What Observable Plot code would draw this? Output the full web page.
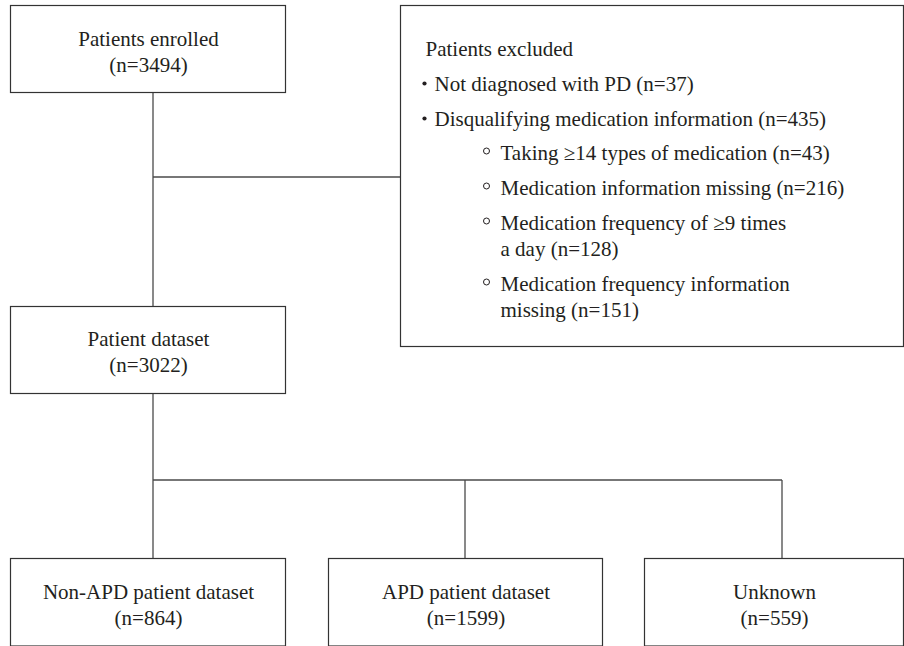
<!DOCTYPE html>
<html>
<head>
<meta charset="utf-8">
<script src="https://cdn.jsdelivr.net/npm/d3@7"></script>
<script src="https://cdn.jsdelivr.net/npm/@observablehq/plot@0.6"></script>
<style>
  html, body { margin: 0; padding: 0; background: #fff; }
  #chart svg { display: block; background: #fff; }
</style>
</head>
<body>
<div id="chart"></div>
<script>
// ---- Data ----
const stageLabels = ["Patients enrolled", "Patient dataset"];
const stageCounts = [3494, 3022];
const groupLabels = ["Non-APD patient dataset", "APD patient dataset", "Unknown"];
const groupCounts = [864, 1599, 559];
const excludedTitle = "Patients excluded";
const exclusionLabels = [
  "Not diagnosed with PD",
  "Disqualifying medication information",
  "Taking \u226514 types of medication",
  "Medication information missing",
  "Medication frequency of \u22659 times\na day",
  "Medication frequency information\nmissing"
];
const exclusionCounts = [37, 435, 43, 216, 128, 151];
const exclusionLevels = [1, 1, 2, 2, 2, 2];

// ---- Layout (positions in pixels) ----
const FONT = "Liberation Serif, Times New Roman, serif";
const FS = 21;
const LH = 26; // line height px
const TOP = 0.71 * FS;
const stageBoxes = [
  {x1: 10.5, x2: 285.5, y1: 5.5, y2: 92.5},
  {x1: 10.5, x2: 285.5, y1: 306.5, y2: 393.5}
];
const groupBoxes = [
  {x1: 10.5, x2: 285.5, y1: 558.5, y2: 646},
  {x1: 328.5, x2: 602.5, y1: 558.5, y2: 646},
  {x1: 644.5, x2: 903.5, y1: 558.5, y2: 646}
];
const excludedBox = {x1: 400.5, x2: 903.5, y1: 5.5, y2: 346.5};
const exclBaselines = [87, 122, 156, 191, 226, 287];
const exclTextX = {1: 434, 2: 500};
const exclBulletX = {1: 424, 2: 486};
const exclBulletDy = {1: -4, 2: -5.5};

const boxes = [...stageBoxes, ...groupBoxes, excludedBox];

const boxTexts = [
  ...stageLabels.map((l, i) => ({label: `${l}\n(n=${stageCounts[i]})`, box: stageBoxes[i], base: i === 0 ? 42 : 342})),
  ...groupLabels.map((l, i) => ({label: `${l}\n(n=${groupCounts[i]})`, box: groupBoxes[i], base: 595}))
].map(d => ({label: d.label, x: (d.box.x1 + d.box.x2) / 2, y: d.base - TOP}));

const exclTexts = [
  {label: excludedTitle, x: 425, y: 52 - TOP},
  ...exclusionLabels.map((l, i) => ({
    label: `${l} (n=${exclusionCounts[i]})`,
    x: exclTextX[exclusionLevels[i]],
    y: exclBaselines[i] - TOP
  }))
];
const bullets = exclusionLabels.map((l, i) => ({
  level: exclusionLevels[i],
  x: exclBulletX[exclusionLevels[i]],
  y: exclBaselines[i] + exclBulletDy[exclusionLevels[i]]
}));

const connectors = [
  {x1: 152.5, y1: 92.5, x2: 152.5, y2: 306.5},
  {x1: 152.5, y1: 176.5, x2: 400.5, y2: 176.5},
  {x1: 152.5, y1: 393.5, x2: 152.5, y2: 558.5},
  {x1: 152.5, y1: 479.5, x2: 781.5, y2: 479.5},
  {x1: 464.5, y1: 479.5, x2: 464.5, y2: 558.5},
  {x1: 781.5, y1: 479.5, x2: 781.5, y2: 558.5}
];

const plot = Plot.plot({
  width: 904,
  height: 646,
  margin: 0,
  x: {domain: [0, 904], range: [0, 904], axis: null},
  y: {domain: [0, 646], range: [0, 646], axis: null},
  style: {background: "#fff"},
  marks: [
    Plot.link(connectors, {x1: "x1", y1: "y1", x2: "x2", y2: "y2", stroke: "#4a4a4a", strokeWidth: 1.3}),
    Plot.rect(boxes, {x1: "x1", x2: "x2", y1: "y1", y2: "y2", fill: "none", stroke: "#333", strokeWidth: 1.2}),
    Plot.text(boxTexts, {x: "x", y: "y", text: "label", fill: "#231f20", fontFamily: FONT, fontSize: FS, lineAnchor: "top", lineHeight: LH / FS, textAnchor: "middle"}),
    Plot.text(exclTexts, {x: "x", y: "y", text: "label", fill: "#231f20", fontFamily: FONT, fontSize: FS, lineAnchor: "top", lineHeight: LH / FS, textAnchor: "start"}),
    Plot.dot(bullets.filter(d => d.level === 1), {x: "x", y: "y", r: 2.1, fill: "#231f20", stroke: "none"}),
    Plot.dot(bullets.filter(d => d.level === 2), {x: "x", y: "y", r: 3, fill: "none", stroke: "#231f20", strokeWidth: 1})
  ]
});
document.getElementById("chart").append(plot);
</script>
</body>
</html>
